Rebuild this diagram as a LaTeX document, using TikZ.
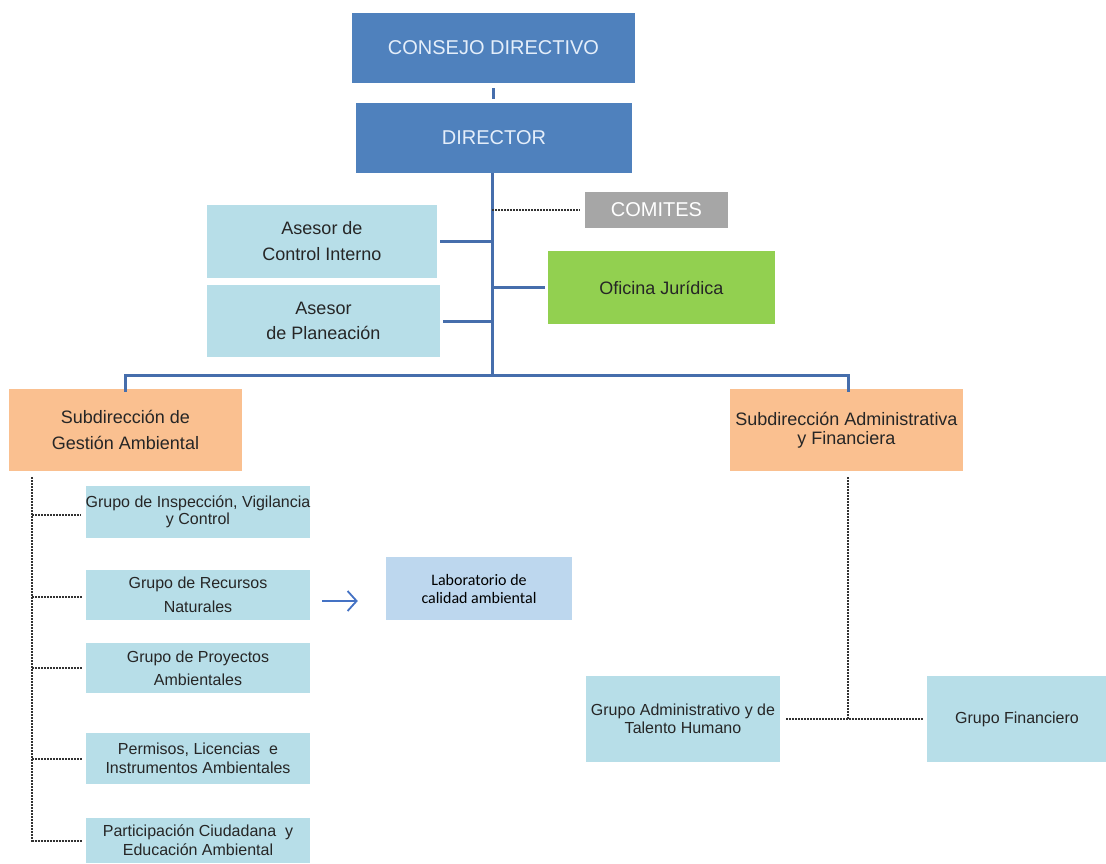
\documentclass[tikz,border=0pt]{standalone}
\usepackage{fontspec}
\setmainfont{Liberation Sans}
\newfontfamily\calfont{Carlito}
\usetikzlibrary{arrows.meta}
\definecolor{dirblue}{RGB}{79,129,189}
\definecolor{dirtext}{RGB}{228,238,250}
\definecolor{lblue}{RGB}{183,222,232}
\definecolor{orng}{RGB}{250,192,144}
\definecolor{grn}{RGB}{146,208,80}
\definecolor{gry}{RGB}{166,166,166}
\definecolor{labblue}{RGB}{189,215,238}
\definecolor{linblue}{RGB}{70,110,172}
\definecolor{arrblue}{RGB}{68,114,196}
\definecolor{txt}{RGB}{38,38,38}
\definecolor{dotc}{RGB}{50,50,50}
\tikzset{
  bx/.style={inner sep=0pt, align=center, text=txt},
  topbox/.style={bx, fill=dirblue, text=dirtext, font=\fontsize{20}{22}\selectfont},
  lbbox/.style={bx, fill=lblue},
  orbox/.style={bx, fill=orng},
  solidline/.style={draw=linblue, line width=3pt},
  dotline/.style={draw=dotc, line width=2pt, dash pattern=on 2pt off 1pt},
}
\begin{document}
\begin{tikzpicture}[x=1pt,y=-1pt]
\useasboundingbox (0,0) rectangle (1106,863);
\fill[white] (0,0) rectangle (1106,863);
% top
\node[topbox, minimum width=283, minimum height=70] (cd) at (493.5,48) {CONSEJO DIRECTIVO};
\node[topbox, minimum width=276, minimum height=70] (dir) at (494,138) {DIRECTOR};
\node[bx, fill=gry, text=white, font=\fontsize{20}{22}\selectfont, minimum width=143, minimum height=36] (com) at (656.5,210) {COMITES};
\node[lbbox, font=\fontsize{18}{26}\selectfont, minimum width=230, minimum height=73] (aci) at (322,241.5) {Asesor de\\Control Interno};
\node[lbbox, font=\fontsize{18}{25}\selectfont, minimum width=233, minimum height=72] (apl) at (323.5,321) {Asesor\\de Planeación};
\node[bx, fill=grn, font=\fontsize{18}{20}\selectfont, minimum width=227, minimum height=73] (oj) at (661.5,287.5) {Oficina Jurídica};
% subdirecciones
\node[orbox, font=\fontsize{18}{26}\selectfont, minimum width=233, minimum height=82] (sga) at (125.5,430) {Subdirección de\\Gestión Ambiental};
\node[orbox, font=\fontsize{18}{19.5}\selectfont, minimum width=233, minimum height=82] (saf) at (846.5,430) {Subdirección Administrativa\\y Financiera};
% left groups
\node[lbbox, font=\fontsize{16}{16.5}\selectfont, minimum width=224, minimum height=52] (g1) at (198,512) {Grupo de Inspección, Vigilancia\\y Control};
\node[lbbox, font=\fontsize{16}{24}\selectfont, minimum width=224, minimum height=50] (g2) at (198,595) {Grupo de Recursos\\Naturales};
\node[lbbox, font=\fontsize{16}{23}\selectfont, minimum width=224, minimum height=50] (g3) at (198,668) {Grupo de Proyectos\\Ambientales};
\node[lbbox, font=\fontsize{16}{19}\selectfont, minimum width=224, minimum height=51] (g4) at (198,758.5) {Permisos, Licencias\ \ e\\Instrumentos Ambientales};
\node[lbbox, font=\fontsize{16}{19}\selectfont, minimum width=224, minimum height=45] (g5) at (198,840.5) {Participación Ciudadana\ \ y\\Educación Ambiental};
\node[bx, fill=labblue, text=black, font=\calfont\fontsize{16}{18}\selectfont, minimum width=186, minimum height=63] (lab) at (479,588.5) {Laboratorio de\\calidad ambiental};
% right groups
\node[lbbox, font=\fontsize{16}{18}\selectfont, minimum width=194, minimum height=86] (gat) at (683,719) {Grupo Administrativo y de\\Talento Humano};
\node[lbbox, font=\fontsize{16}{18}\selectfont, minimum width=180, minimum height=86] (gf) at (1017,719) {Grupo Financiero};
% coordinates
\coordinate (trunk) at (492,375);
\coordinate (barL) at (125,375);
\coordinate (barR) at (848,375);
\coordinate (ldot) at (32,477);
\coordinate (rdot) at (848,477);
% solid connectors
\draw[solidline] ([yshift=-5pt]cd.south -| 493,0) -- ([yshift=4pt]dir.north -| 493,0);
\draw[solidline] (dir.south -| trunk) -- (trunk);
\draw[solidline, line cap=rect] ([yshift=-1.5pt]barL |- sga.north) -- (barL) -- (barR) -- ([yshift=-1.5pt]barR |- saf.north);
\draw[solidline] ([xshift=3pt]aci.east) -- (aci.east -| trunk);
\draw[solidline] ([xshift=3pt]apl.east |- 0,321) -- (trunk |- 0,321);
\draw[solidline] (trunk |- oj.west) -- ([xshift=-3pt]oj.west);
% dotted connectors
\draw[dotline] (trunk |- com.west) -- ([xshift=-5pt]com.west);
\draw[dotline] (ldot) -- (ldot |- g5.west) -- ([xshift=-4pt]g5.west);
\draw[dotline] (ldot |- 0,515) -- ([xshift=-4pt]g1.west |- 0,515);
\draw[dotline] (ldot |- 0,597) -- ([xshift=-4pt]g2.west |- 0,597);
\draw[dotline] (ldot |- 0,668) -- ([xshift=-4pt]g3.west);
\draw[dotline] (ldot |- 0,759) -- ([xshift=-4pt]g4.west |- 0,759);
\draw[dotline] (rdot) -- (rdot |- gat.east);
\draw[dotline] ([xshift=6pt]gat.east) -- ([xshift=-3pt]gf.west);
% arrow
\draw[arrblue, line width=1.8pt, -{Straight Barb[length=9pt,width=20pt,line width=1.8pt]}] ([xshift=12pt]g2.east |- 0,601) -- ([xshift=-28pt]lab.west |- 0,601);
\end{tikzpicture}
\end{document}
